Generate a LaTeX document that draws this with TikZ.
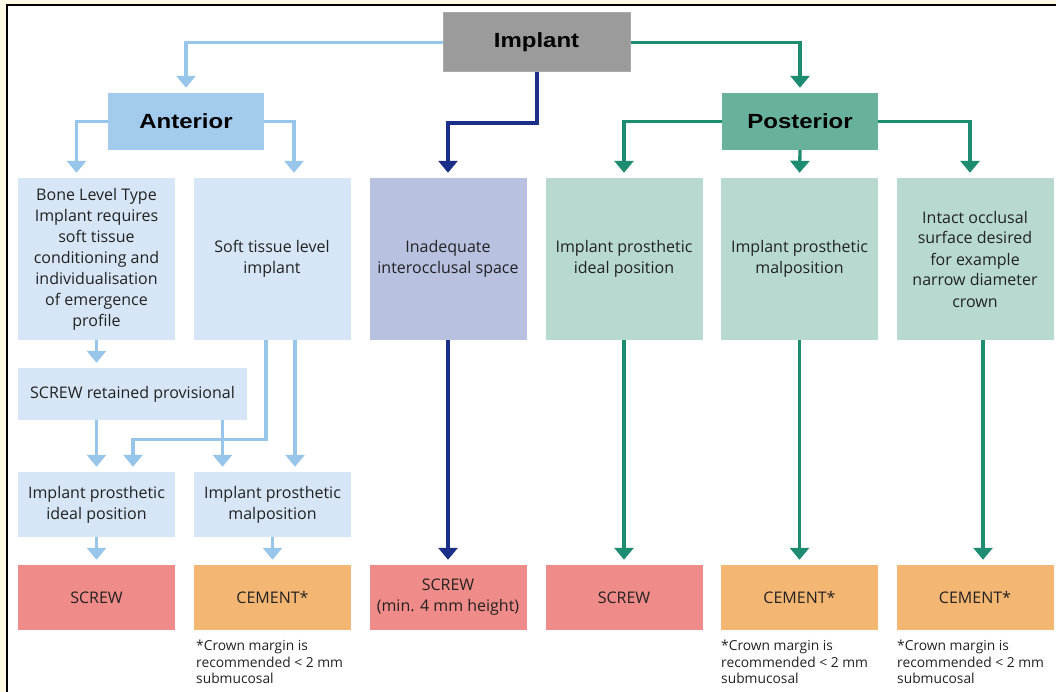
\documentclass[tikz,border=0pt]{standalone}
\usepackage{fontspec}
\setmainfont{Open Sans}
\newfontfamily\headfont[FakeStretch=1.17]{Liberation Sans}
\usetikzlibrary{arrows.meta,calc}
\definecolor{cream}{HTML}{FFF9E6}
\definecolor{implgray}{HTML}{9B9B9B}
\definecolor{antblue}{HTML}{A3CBEE}
\definecolor{postteal}{HTML}{68B29D}
\definecolor{lblue}{HTML}{D6E6F6}
\definecolor{lviolet}{HTML}{B9C1E1}
\definecolor{lteal}{HTML}{B7D9D0}
\definecolor{sred}{HTML}{EF8B88}
\definecolor{corange}{HTML}{F4B673}
\definecolor{linblue}{HTML}{98C6EB}
\definecolor{linteal}{HTML}{1E8C70}
\definecolor{linnavy}{HTML}{1B2E88}
\definecolor{txt}{HTML}{222222}
\begin{document}
\begin{tikzpicture}[x=1pt,y=-1pt,
  box/.style={draw=none, inner sep=0pt, align=center, text=txt,
    font=\fontsize{16}{21}\selectfont},
  head/.style={draw=none, inner sep=0pt, align=center, text=black,
    font=\headfont\bfseries\fontsize{20.5}{24}\selectfont,
    minimum width=156pt, minimum height=57pt},
  rowtwo/.style={box, minimum width=157pt, minimum height=162pt},
  mid/.style={box, minimum width=157pt, minimum height=65pt},
  note/.style={draw=none, inner sep=0pt, align=left, anchor=north west,
    text=txt, font=\fontsize{13.8}{16.5}\selectfont},
  conn/.style={line width=3.3pt, -{Triangle[width=19pt,length=12pt]}, shorten >=5pt},
  lb/.style={conn, draw=linblue},
  lt/.style={conn, draw=linteal},
  ln/.style={conn, draw=linnavy}
]
\useasboundingbox (0,0) rectangle (1056,692);
\fill[cream] (0,0) rectangle (1056,692);
\fill[white] (7,5) rectangle (1056,692);
\draw[black, line width=2pt] (7,692) -- (7,5) -- (1056,5);

% top level
\node[head, fill=implgray, draw=implgray!85!white, line width=1pt, minimum width=187pt, minimum height=59pt] (impl) at (536.5,42.5) {Implant};
\node[head, fill=antblue] (ant) at (186,121.5) {Anterior};
\node[head, fill=postteal] (post) at (800,121.5) {Posterior};

% row two
\node[rowtwo, fill=lblue] (bone) at (96.5,259) {Bone Level Type\\Implant requires\\soft tissue\\conditioning and\\individualisation\\of emergence\\profile};
\node[rowtwo, fill=lblue] (soft) at (272,259) {Soft tissue level\\implant};
\node[rowtwo, fill=lviolet] (inad) at (448,259) {Inadequate\\interocclusal space};
\node[rowtwo, fill=lteal] (pideal) at (624,259) {Implant prosthetic\\ideal position};
\node[rowtwo, fill=lteal] (pmal) at (799.5,259) {Implant prosthetic\\malposition};
\node[rowtwo, fill=lteal] (intact) at (975,259) {Intact occlusal\\surface desired\\for example\\narrow diameter\\crown};

% anterior lower
\node[box, fill=lblue, minimum width=229pt, minimum height=52pt] (prov) at (132.5,394) {SCREW retained provisional};
\node[mid, fill=lblue] (aideal) at (96.5,504.5) {Implant prosthetic\\ideal position};
\node[mid, fill=lblue] (amal) at (272.5,504.5) {Implant prosthetic\\malposition};

% bottom row
\node[mid, fill=sred] (s1) at (96.5,597.5) {SCREW};
\node[mid, fill=corange] (c1) at (272.5,597.5) {CEMENT*};
\node[mid, fill=sred] (s2) at (448,597.5) {SCREW\\(min. 4 mm height)};
\node[mid, fill=sred] (s3) at (624,597.5) {SCREW};
\node[mid, fill=corange] (c2) at (799.5,597.5) {CEMENT*};
\node[mid, fill=corange] (c3) at (975,597.5) {CEMENT*};

% notes
\node[note] (n1) at (196,640) {*Crown margin is\\recommended < 2 mm\\submucosal};
\node[note] (n2) at (721,640) {*Crown margin is\\recommended < 2 mm\\submucosal};
\node[note] (n3) at (897,640) {*Crown margin is\\recommended < 2 mm\\submucosal};

% connectors from Implant
\draw[lb] (impl.west) -| (ant.north);
\draw[lt] (impl.east) -| (post.north);
\coordinate (navyturn) at (537,123);
\draw[ln] (impl.south -| navyturn) -- (navyturn) -| (inad.north);

% anterior split
\coordinate (boneIn) at ($(bone.north)+(-20,0)$);
\coordinate (softIn) at ($(soft.north)+(22,0)$);
\draw[lb] (ant.west) -| (boneIn);
\draw[lb] (ant.east) -| (softIn);

% posterior split
\coordinate (intIn) at ($(intact.north)+(-5,0)$);
\draw[lt] (post.west) -| (pideal.north);
\draw[lt] (post.south) -- (pmal.north);
\draw[lt] (post.east) -| (intIn);

% anterior lower connectors
\draw[lb] (bone.south) -- (bone.south |- prov.north);
\draw[lb] (aideal.north |- prov.south) -- (aideal.north);
\coordinate (amalIn) at ($(amal.north)+(-50,0)$);
\draw[lb] (amalIn |- prov.south) -- (amalIn);
\coordinate (softOutA) at ($(soft.south)+(-6,0)$);
\coordinate (aidealIn) at ($(aideal.north)+(36.5,0)$);
\coordinate (bendA) at ($(softOutA)+(0,99)$);
\draw[lb] (softOutA) -- (bendA) -| (aidealIn);
\coordinate (amalIn2) at ($(amal.north)+(22.5,0)$);
\draw[lb] (amalIn2 |- soft.south) -- (amalIn2);
\draw[lb] (aideal.south) -- (s1.north);
\draw[lb] (amal.south) -- (c1.north);

% middle and posterior verticals
\draw[ln] (inad.south) -- (s2.north);
\draw[lt] (pideal.south) -- (s3.north);
\draw[lt] (pmal.south) -- (c2.north);
\coordinate (intOut) at ($(intact.south)+(8,0)$);
\draw[lt] (intOut) -- (intOut |- c3.north);
\end{tikzpicture}
\end{document}
